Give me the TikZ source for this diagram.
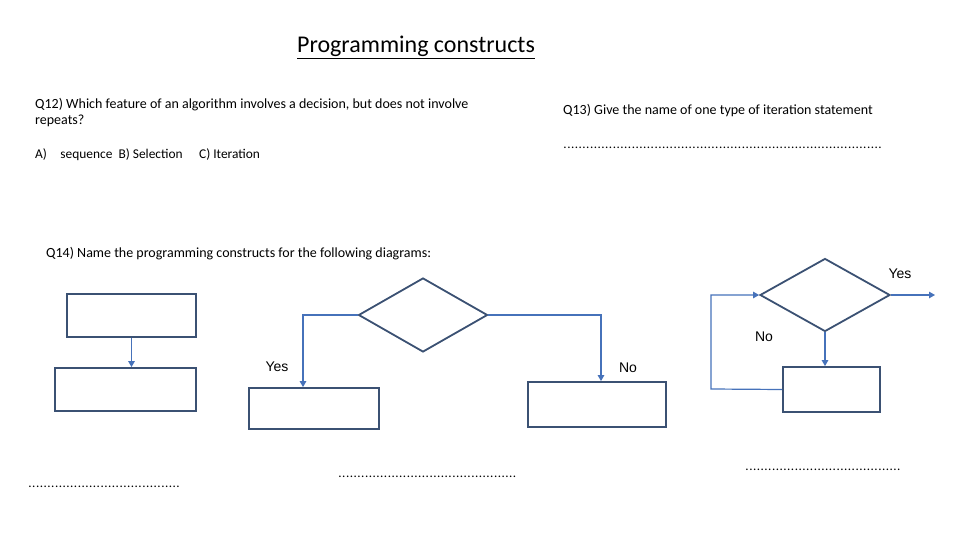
\documentclass[tikz,border=0pt]{standalone}
\usepackage{fontspec}
\setmainfont{Carlito}
\newfontfamily\labelfont{Liberation Sans}
\usetikzlibrary{shapes.geometric,arrows.meta,positioning,calc}
\definecolor{boxline}{RGB}{59,81,115}
\definecolor{flowline}{RGB}{70,114,186}
\newcommand{\answerdots}[1]{\makebox[#1]{\leaders\hbox to 3.8pt{\hss.\hss}\hfill}}

\begin{document}
\begin{tikzpicture}[x=1pt,y=-1pt,
    txt/.style={anchor=west,inner sep=0pt,font=\fontsize{13}{16}\selectfont},
    bigtxt/.style={txt,font=\fontsize{14}{16}\selectfont},
    box/.style={draw=boxline,line width=1.8pt,inner sep=0pt},
    choice/.style={diamond,draw=boxline,line width=1.8pt,inner sep=0pt},
    link/.style={draw=flowline,line width=1.2pt},
    arr/.style={link,-{Triangle[length=6pt,width=6.5pt]}},
    yn/.style={inner sep=0pt,font=\labelfont\fontsize{14}{16}\selectfont}]
    \useasboundingbox[fill=white] (0,0) rectangle (960,540);

    \node[inner sep=0pt] (title) at (416,47) {\fontsize{24}{28}\selectfont\underline{Programming constructs}};

    % questions
    \node[bigtxt,anchor=north west,align=left] (q12) at (35,98) {Q12) Which feature of an algorithm involves a decision, but does not involve\\repeats?};
    \node[txt,font=\fontsize{13.4}{16}\selectfont] (q12opts) at (35,155) {A)\quad sequence\ \ B) Selection\quad\ C) Iteration};
    \node[bigtxt] (q13) at (563,111) {Q13) Give the name of one type of iteration statement};
    \node[txt] (q13dots) at (563,148) {\answerdots{323pt}};
    \node[bigtxt] (q14) at (46,254) {Q14) Name the programming constructs for the following diagrams:};

    % sequence
    \node[box,minimum width=129pt,minimum height=43pt] (s1) at (131.5,315.5) {};
    \node[box,minimum width=141pt,minimum height=43pt] (s2) at (125.5,389.5) {};
    \draw[arr] (s1.south) -- (s1.south |- s2.north);
    \node[txt] (dots1) at (28,487) {\answerdots{155pt}};

    % selection
    \node[choice,minimum width=129pt,minimum height=74pt] (d2) at (423,315) {};
    \node[box,minimum width=130pt,minimum height=41pt] (b2l) at (314,408.5) {};
    \node[box,minimum width=138pt,minimum height=45pt] (b2r) at (597,404.5) {};
    \coordinate (l2) at ($(b2l.north)+(-11,0)$);
    \coordinate (r2) at ($(b2r.north)+(4,0)$);
    \draw[arr] (d2.west) -| (l2);
    \draw[arr] (d2.east) -| (r2);
    \node[yn] (yes2) at (277,367) {Yes};
    \node[yn] (no2) at (628,368) {No};
    \node[txt] (dots2) at (338,477) {\answerdots{181pt}};

    % iteration
    \node[choice,minimum width=130pt,minimum height=73pt] (d3) at (825,295) {};
    \node[box,minimum width=97pt,minimum height=45pt] (b3) at (831.5,389.5) {};
    \coordinate (out3) at (935,295);
    \coordinate (back3) at (711,389);
    \draw[arr] (d3.east) -- (out3);
    \draw[arr] (d3.south) -- (d3.south |- b3.north);
    \draw[arr] (b3.west) -- (back3) |- (d3.west);
    \node[yn] (yes3) at (900,274) {Yes};
    \node[yn] (no3) at (764,337) {No};
    \node[txt] (dots3) at (745,470) {\answerdots{156pt}};
\end{tikzpicture}
\end{document}
